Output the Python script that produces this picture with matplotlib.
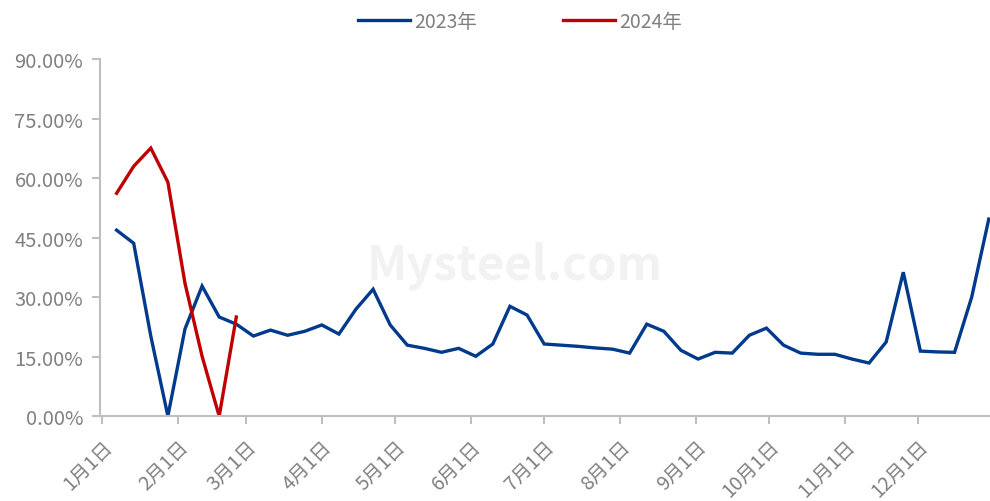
import pandas as pd
import matplotlib.pyplot as plt
import matplotlib.dates as mdates
from matplotlib.ticker import FuncFormatter

plt.rcParams['font.family'] = ['Noto Sans CJK SC', 'DejaVu Sans']

# weekly readings, 2023 (52 weeks) and 2024 (first 8 weeks), in %
dates = pd.date_range("2023-01-07", periods=52, freq="7D")
rate_2023 = [46.9, 43.6, 20.2, 0.0, 22.0, 32.8, 25.0, 23.2, 20.2, 21.7,
             20.4, 21.4, 23.0, 20.7, 27.0, 32.0, 23.0, 17.9, 17.1, 16.1,
             17.1, 15.1, 18.2, 27.7, 25.5, 18.2, 17.9, 17.6, 17.2, 16.9,
             15.9, 23.2, 21.4, 16.6, 14.4, 16.1, 15.9, 20.4, 22.2, 17.9,
             15.9, 15.6, 15.6, 14.4, 13.4, 18.7, 36.3, 16.4, 16.2, 16.1,
             30.0, 49.7]
rate_2024 = [56.2, 63.0, 67.6, 59.0, 33.5, 15.1, 0.0, 25.0]
yticks = [0, 15, 30, 45, 60, 75, 90]

BLUE = "#003A8C"
RED = "#C00000"
GRAY = "#808080"
SPINE = "#BFBFBF"

fig = plt.figure(figsize=(9.9, 5.02), dpi=100)
ax = fig.add_axes([0.101, 0.169, 0.899, 0.711])

ax.plot(dates, rate_2023, color=BLUE, lw=2.4, label="2023年", solid_joinstyle="miter")
ax.plot(dates[:len(rate_2024)], rate_2024, color=RED, lw=2.4, label="2024年",
        solid_joinstyle="miter")

start = pd.Timestamp("2023-01-01")
ax.set_xlim(start - pd.Timedelta(hours=19), start + pd.Timedelta(days=363.5))
ax.set_ylim(0, 90)
ax.set_yticks(yticks)
ax.yaxis.set_major_formatter(FuncFormatter(lambda v, p: f"{v:.2f}%"))

ax.xaxis.set_major_locator(mdates.MonthLocator(bymonthday=1))
ax.xaxis.set_major_formatter(FuncFormatter(
    lambda v, p: f"{mdates.num2date(v).month}月1日"))

for s in ["top", "right"]:
    ax.spines[s].set_visible(False)
for s in ["left", "bottom"]:
    ax.spines[s].set_color(SPINE)
    ax.spines[s].set_linewidth(1.5)

ax.tick_params(axis="both", colors=SPINE, length=6, width=1.5, labelsize=14,
               labelcolor=GRAY)
ax.tick_params(axis="y", pad=6, labelsize=14.5)
ax.tick_params(axis="x", pad=8, labelsize=14)
for lab in ax.get_xticklabels():
    lab.set_rotation(45)
    lab.set_ha("right")
    lab.set_rotation_mode("anchor")

# faint watermark
fig.text(0.52, 0.47, "Mysteel.com", fontsize=34, color="#F2F2F2",
         ha="center", va="center", fontweight="bold", zorder=0)

fig.legend(loc="center", bbox_to_anchor=(0.525, 0.956), ncol=2, frameon=False,
           fontsize=14, labelcolor=GRAY, handlelength=2.7, columnspacing=4.4,
           handletextpad=0.2)

fig.savefig("out.png", dpi=100)
